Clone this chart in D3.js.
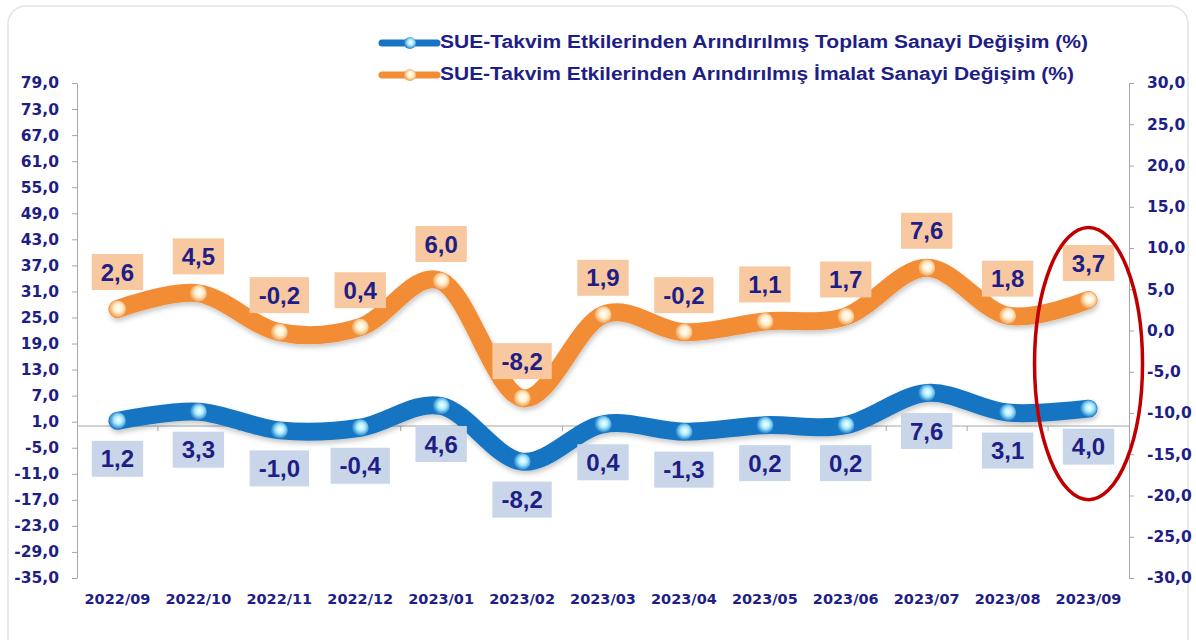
<!DOCTYPE html>
<html>
<head>
<meta charset="utf-8">
<script src="https://cdn.jsdelivr.net/npm/d3@7"></script>
<style>
  html, body { margin: 0; padding: 0; background: #fff; }
  svg { display: block; }
</style>
</head>
<body>
<svg id="chart" width="1196" height="640"></svg>
<script>
// data
const months = ['2022/09', '2022/10', '2022/11', '2022/12', '2023/01', '2023/02', '2023/03',
    '2023/04', '2023/05', '2023/06', '2023/07', '2023/08', '2023/09'];
const toplamSanayi = [1.2, 3.3, -1.0, -0.4, 4.6, -8.2, 0.4, -1.3, 0.2, 0.2, 7.6, 3.1, 4.0];
const imalatSanayi = [2.6, 4.5, -0.2, 0.4, 6.0, -8.2, 1.9, -0.2, 1.1, 1.7, 7.6, 1.8, 3.7];
const leftTicks = [79, 73, 67, 61, 55, 49, 43, 37, 31, 25, 19, 13, 7, 1, -5, -11, -17, -23, -29, -35];
const rightTicks = [30, 25, 20, 15, 10, 5, 0, -5, -10, -15, -20, -25, -30];
const legendNames = [
    'SUE-Takvim Etkilerinden Arındırılmış Toplam Sanayi Değişim (%)',
    'SUE-Takvim Etkilerinden Arındırılmış İmalat Sanayi Değişim (%)'
];

const navy = '#1e1e86';
const fmt = d => d.toFixed(1).replace('.', ',');

const svg = d3.select('#chart');
const defs = svg.append('defs');

// card background
svg.append('rect')
    .attr('x', 8).attr('y', 6)
    .attr('width', 1180).attr('height', 660)
    .attr('rx', 18)
    .attr('fill', '#fff')
    .attr('stroke', '#e4e4e4')
    .attr('stroke-width', 1.5);

const plot = { left: 77, right: 1129, top: 83, bottom: 578 };

const x = d3.scaleBand()
    .domain(months)
    .range([plot.left, plot.right]);
const cx = d => x(d) + x.bandwidth() / 2;

const yLeft = d3.scaleLinear().domain([-35, 79]).range([plot.bottom, plot.top]);
const yRight = d3.scaleLinear().domain([-30, 30]).range([plot.bottom, plot.top]);

// shadow + marker gradients
defs.append('filter').attr('id', 'shadow')
    .attr('x', '-10%').attr('y', '-30%').attr('width', '120%').attr('height', '160%')
    .append('feDropShadow')
    .attr('dx', 1).attr('dy', 3).attr('stdDeviation', 2.5)
    .attr('flood-color', '#000').attr('flood-opacity', 0.22);

function gradient(id, mid, edge) {
    const g = defs.append('radialGradient').attr('id', id)
        .attr('cx', '55%').attr('cy', '45%').attr('r', '55%');
    g.append('stop').attr('offset', '0%').attr('stop-color', '#ffffff');
    g.append('stop').attr('offset', '45%').attr('stop-color', mid);
    g.append('stop').attr('offset', '100%').attr('stop-color', edge);
}
gradient('gradBlue', '#a9ecff', '#1f7cc8');
gradient('gradOrange', '#fff1cf', '#f0a055');

const series = [
    { name: legendNames[0], values: toplamSanayi, y: yLeft, color: '#1874c2', grad: 'gradBlue',
      boxFill: '#c9d6ea', labelDy: 38, legendWidth: 648 },
    { name: legendNames[1], values: imalatSanayi, y: yRight, color: '#f28c35', grad: 'gradOrange',
      boxFill: '#f8c9a0', labelDy: -37, legendWidth: 634 }
];

// axes
const leftAxis = svg.append('g')
    .attr('transform', `translate(${plot.left},0)`)
    .call(d3.axisLeft(yLeft).tickValues(leftTicks).tickFormat(fmt)
        .tickSizeInner(5).tickSizeOuter(0).tickPadding(13));

const rightAxis = svg.append('g')
    .attr('transform', `translate(${plot.right},0)`)
    .call(d3.axisRight(yRight).tickValues(rightTicks).tickFormat(fmt)
        .tickSizeInner(5).tickSizeOuter(0).tickPadding(13));

[leftAxis, rightAxis].forEach(a => {
    a.select('.domain').attr('stroke', '#a6a6a6');
    a.selectAll('.tick line').attr('stroke', '#a6a6a6');
    a.selectAll('.tick text')
        .attr('fill', navy)
        .attr('font-family', 'DejaVu Sans')
        .attr('font-weight', 'bold')
        .attr('font-size', 15.5);
});

// horizontal category axis at zero of left scale
const zeroY = yLeft(0);
svg.append('line')
    .attr('x1', plot.left).attr('x2', plot.right)
    .attr('y1', zeroY).attr('y2', zeroY)
    .attr('stroke', '#a6a6a6');
svg.append('g').selectAll('line')
    .data(months.slice(1))
    .join('line')
    .attr('x1', d => x(d)).attr('x2', d => x(d))
    .attr('y1', zeroY).attr('y2', zeroY + 5)
    .attr('stroke', '#a6a6a6');

svg.append('g').selectAll('text')
    .data(months)
    .join('text')
    .attr('x', d => cx(d))
    .attr('y', 600)
    .attr('text-anchor', 'middle')
    .attr('dominant-baseline', 'middle')
    .attr('fill', navy)
    .attr('font-family', 'DejaVu Sans')
    .attr('font-weight', 'bold')
    .attr('font-size', 14.5)
    .text(d => d);

// lines
series.forEach(s => {
    const line = d3.line()
        .x((d, i) => cx(months[i]))
        .y(d => s.y(d))
        .curve(d3.curveCardinal.tension(0));

    svg.append('path')
        .datum(s.values)
        .attr('d', line)
        .attr('fill', 'none')
        .attr('stroke', s.color)
        .attr('stroke-width', 18)
        .attr('stroke-linecap', 'round')
        .attr('stroke-linejoin', 'round')
        .attr('filter', 'url(#shadow)');

    svg.append('g').selectAll('circle')
        .data(s.values)
        .join('circle')
        .attr('cx', (d, i) => cx(months[i]))
        .attr('cy', d => s.y(d))
        .attr('r', 8.5)
        .attr('fill', `url(#${s.grad})`);
});

// data labels
series.forEach(s => {
    const g = svg.append('g').selectAll('g')
        .data(s.values)
        .join('g')
        .attr('transform', (d, i) => `translate(${cx(months[i])},${s.y(d) + s.labelDy})`);

    const rects = g.append('rect').attr('fill', s.boxFill);
    const texts = g.append('text')
        .attr('text-anchor', 'middle')
        .attr('dy', '0.36em')
        .attr('fill', navy)
        .attr('font-family', 'Liberation Sans, Arial, sans-serif')
        .attr('font-weight', 'bold')
        .attr('font-size', 24)
        .text(d => fmt(d));

    texts.each(function (d, i) {
        const w = this.getComputedTextLength() + 18;
        d3.select(rects.nodes()[i])
            .attr('x', -w / 2).attr('y', -18)
            .attr('width', w).attr('height', 36);
    });
});

// legend
const legend = svg.append('g');
series.forEach((s, i) => {
    const ly = 43 + i * 32;
    legend.append('line')
        .attr('x1', 382).attr('x2', 437)
        .attr('y1', ly).attr('y2', ly)
        .attr('stroke', s.color)
        .attr('stroke-width', 7)
        .attr('stroke-linecap', 'round');
    legend.append('circle')
        .attr('cx', 410).attr('cy', ly).attr('r', 6)
        .attr('fill', `url(#${s.grad})`);
    legend.append('text')
        .attr('x', 440).attr('y', ly)
        .attr('dominant-baseline', 'middle')
        .attr('fill', navy)
        .attr('font-family', 'Liberation Sans, Arial, sans-serif')
        .attr('font-weight', 'bold')
        .attr('font-size', 18)
        .attr('textLength', s.legendWidth)
        .attr('lengthAdjust', 'spacingAndGlyphs')
        .text(s.name);
});

// red highlight ellipse around the last month
const lastMonth = months[months.length - 1];
svg.append('ellipse')
    .attr('cx', cx(lastMonth))
    .attr('cy', (yRight(12.5) + yRight(-20.5)) / 2)
    .attr('rx', 54)
    .attr('ry', (yRight(-20.5) - yRight(12.5)) / 2)
    .attr('fill', 'none')
    .attr('stroke', '#c00000')
    .attr('stroke-width', 3.5);
</script>
</body>
</html>
